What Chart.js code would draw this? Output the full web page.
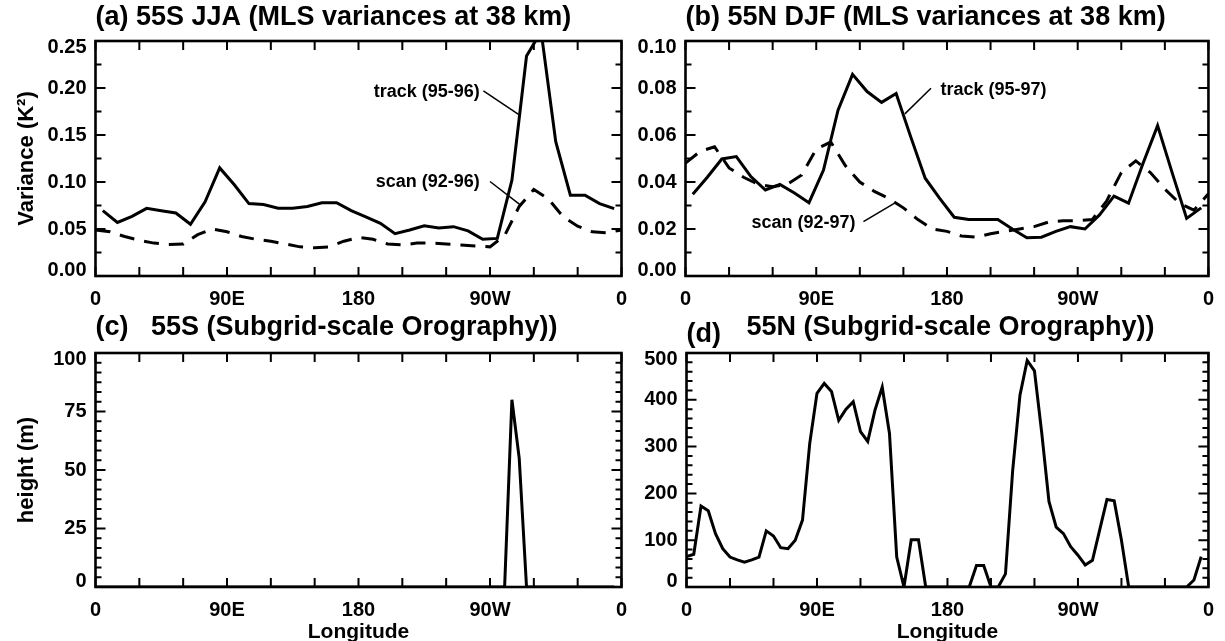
<!DOCTYPE html>
<html>
<head>
<meta charset="utf-8">
<script src="https://cdn.jsdelivr.net/npm/chart.js@4"></script>
<style>
  body { margin: 0; background: #fff; }
  #wrap { position: relative; width: 1225px; height: 641px; overflow: hidden; }
  canvas { position: absolute; }
</style>
</head>
<body>
<div id="wrap">
  <canvas id="pa" width="650" height="320" style="left:0;top:0"></canvas>
  <canvas id="pb" width="625" height="320" style="left:600px;top:0"></canvas>
  <canvas id="pc" width="650" height="335" style="left:0;top:310px"></canvas>
  <canvas id="pd" width="625" height="335" style="left:600px;top:310px"></canvas>
</div>
<script>
// longitude grids (degrees east)
const lonTrack = [5,15,25,35,45,55,65,75,85,95,105,115,125,135,145,155,165,175,
  185,195,205,215,225,235,245,255,265,275,285,295,305,315,325,335,345,355];
const lonScan = [0,10,20,30,40,50,60,70,80,90,100,110,120,130,140,150,160,170,180,
  190,200,210,220,230,240,250,260,270,280,290,300,310,320,330,340,350,360];
const lonOro = [0,5,10,15,20,25,30,35,40,45,50,55,60,65,70,75,80,85,90,95,100,105,110,115,
  120,125,130,135,140,145,150,155,160,165,170,175,180,185,190,195,200,205,210,215,220,225,
  230,235,240,245,250,255,260,265,270,275,280,285,290,295,300,305,310,315,320,325,330,335,
  340,345,350,355];

const lonTicks = [0, 90, 180, 270, 360];
const lonLabels = ['0', '90E', '180', '90W', '0'];

// (a) 55S JJA variances (K^2)
const trackA = [0.0695,0.057,0.0635,0.072,0.0695,0.067,0.055,0.079,0.115,0.097,0.077,0.076,
  0.072,0.072,0.074,0.078,0.078,0.0695,0.063,0.056,0.045,0.049,0.0535,0.051,0.0525,0.048,
  0.039,0.040,0.102,0.234,0.26,0.143,0.086,0.086,0.077,0.0716];
const scanA = [0.049,0.047,0.042,0.038,0.035,0.0335,0.034,0.044,0.050,0.047,0.042,0.039,
  0.037,0.034,0.031,0.030,0.031,0.037,0.041,0.039,0.034,0.033,0.035,0.035,0.034,0.033,
  0.032,0.031,0.043,0.074,0.092,0.082,0.063,0.053,0.047,0.046,0.049];

// (b) 55N DJF variances (K^2)
const trackB = [0.0348,0.042,0.0498,0.0508,0.0423,0.0366,0.039,0.0353,0.0312,0.0451,0.0706,
  0.0858,0.0785,0.0739,0.0777,0.0593,0.0416,0.033,0.025,0.024,0.024,0.024,0.020,0.0163,
  0.0165,0.019,0.021,0.020,0.026,0.034,0.031,0.048,0.064,0.044,0.0245,0.029];
const scanB = [0.048,0.053,0.055,0.046,0.042,0.039,0.038,0.039,0.043,0.054,0.057,0.047,
  0.040,0.036,0.033,0.029,0.024,0.020,0.019,0.017,0.0165,0.018,0.019,0.020,0.021,0.023,
  0.0235,0.0235,0.024,0.032,0.044,0.049,0.044,0.037,0.031,0.028,0.035];

// (c) 55S subgrid-scale orography height (m)
const oroS = [0,0,0,0,0,0,0,0,0,0,0,0,0,0,0,0,0,0,0,0,0,0,0,0,0,0,0,0,0,0,0,0,0,0,0,0,
  0,0,0,0,0,0,0,0,0,0,0,0,0,0,0,0,0,0,0,0,0,80,55,0,0,0,0,0,0,0,0,0,0,0,0,0];
// (d) 55N subgrid-scale orography height (m)
const oroN = [65,70,173,163,114,82,64,58,53,58,64,120,109,84,82,100,143,307,414,435,418,356,
  380,396,332,311,378,427,328,64,0,101,101,0,0,0,0,0,0,0,46,46,0,0,28,250,410,484,462,330,
  183,128,114,86,68,47,57,122,187,184,100,0,0,0,0,0,0,0,0,0,15,65];

const FONT = '"Liberation Sans", Arial, Helvetica, sans-serif';
Chart.defaults.font.family = FONT;
Chart.defaults.font.weight = 'bold';
Chart.defaults.color = '#000';

const pts = (xs, ys) => xs.map((v, i) => ({x: v, y: ys[i]}));

// box round the plot plus inward ticks on all four sides
function frameTicks(yMinor, yEvery) {
  return {
    id: 'frameTicks',
    afterDatasetsDraw(chart) {
      const {ctx, chartArea: a, scales: {x, y}} = chart;
      ctx.save();
      ctx.strokeStyle = '#000';
      ctx.lineWidth = 2;
      ctx.beginPath();
      for (let v = 0; v <= 360; v += 30) {
        const px = x.getPixelForValue(v);
        ctx.moveTo(px, a.bottom); ctx.lineTo(px, a.bottom - 9);
        ctx.moveTo(px, a.top); ctx.lineTo(px, a.top + 9);
      }
      const n = Math.round((y.max - y.min) / yMinor);
      for (let i = 0; i <= n; i++) {
        const py = y.getPixelForValue(y.min + i * yMinor);
        const len = i % yEvery === 0 ? 10 : 6;
        ctx.moveTo(a.left, py); ctx.lineTo(a.left + len, py);
        ctx.moveTo(a.right, py); ctx.lineTo(a.right - len, py);
      }
      ctx.stroke();
      ctx.lineWidth = 2.6;
      ctx.strokeRect(a.left, a.top, a.right - a.left, a.bottom - a.top);
      ctx.restore();
    }
  };
}

// curve labels with their leader lines, placed in data units
function notes(items) {
  return {
    id: 'notes',
    afterDatasetsDraw(chart) {
      const {ctx, scales: {x, y}} = chart;
      ctx.save();
      ctx.fillStyle = '#000';
      ctx.strokeStyle = '#000';
      ctx.lineWidth = 1.5;
      ctx.textBaseline = 'middle';
      items.forEach(n => {
        ctx.font = 'bold ' + (n.size || 18) + 'px ' + FONT;
        ctx.textAlign = n.align;
        ctx.fillText(n.text, x.getPixelForValue(n.at[0]), y.getPixelForValue(n.at[1]));
        if (!n.from) return;
        ctx.beginPath();
        ctx.moveTo(x.getPixelForValue(n.from[0]), y.getPixelForValue(n.from[1]));
        ctx.lineTo(x.getPixelForValue(n.to[0]), y.getPixelForValue(n.to[1]));
        ctx.stroke();
      });
      ctx.restore();
    }
  };
}

function makePanel(id, p) {
  const datasets = p.series.map(s => ({
    data: s.data,
    borderColor: '#000',
    borderWidth: 3,
    borderDash: s.dash || [],
    pointRadius: 0,
    tension: 0,
    fill: false
  }));
  return new Chart(document.getElementById(id), {
    type: 'line',
    data: { datasets: datasets },
    options: {
      responsive: false,
      animation: false,
      events: [],
      layout: { padding: { left: 0, right: p.padRight, top: 0, bottom: 0 } },
      plugins: {
        legend: { display: false },
        tooltip: { enabled: false },
        title: {
          display: true,
          text: p.title,
          align: 'start',
          fullSize: false,
          font: { size: 27, weight: 'bold' },
          padding: { top: p.titleTop, bottom: p.titleBottom }
        }
      },
      scales: {
        x: {
          type: 'linear',
          min: 0,
          max: 360,
          grid: { display: false, drawTicks: false },
          border: { display: false },
          afterBuildTicks: s => { s.ticks = lonTicks.map(v => ({value: v})); },
          afterFit: s => { s.height = p.xHeight; },
          ticks: {
            autoSkip: false,
            maxRotation: 0,
            padding: 11,
            font: { size: 20, weight: 'bold' },
            callback: (v, i) => lonLabels[i]
          },
          title: {
            display: !!p.xTitle,
            text: p.xTitle || '',
            font: { size: 21, weight: 'bold' },
            padding: { top: 0, bottom: 0 }
          }
        },
        y: {
          min: 0,
          max: p.yMax,
          grid: { display: false, drawTicks: false },
          border: { display: false },
          afterFit: s => { s.width = p.yWidth; },
          ticks: {
            stepSize: p.yStep,
            padding: 9,
            font: { size: 20, weight: 'bold', lineHeight: 0.6 },
            // end labels sit a little inside the axis, as in the original
            callback: (v, i, t) => {
              const s = p.yFmt(v);
              if (i === t.length - 1) return ['', s];
              if (i === 0) return [s, ''];
              return s;
            }
          },
          title: {
            display: !!p.yTitle,
            text: p.yTitle || '',
            font: { size: 22, weight: 'bold' },
            padding: { top: 14, bottom: 0 }
          }
        }
      }
    },
    plugins: [frameTicks(p.yMinor, p.yEvery), notes(p.notes || [])]
  });
}

makePanel('pa', {
  title: '(a) 55S JJA (MLS variances at 38 km)',
  titleTop: 1, titleBottom: 7.6,
  padRight: 28.5, xHeight: 44, yWidth: 95.5,
  yMax: 0.25, yStep: 0.05, yMinor: 0.025, yEvery: 2,
  yFmt: v => v.toFixed(2),
  yTitle: 'Variance (K²)',
  series: [
    { data: pts(lonTrack, trackA) },
    { data: pts(lonScan, scanA), dash: [15, 10] }
  ],
  notes: [
    { text: 'track (95-96)', align: 'right', at: [263, 0.196], from: [265.5, 0.197], to: [289.5, 0.172] },
    { text: 'scan (92-96)', align: 'right', at: [263, 0.100], from: [270, 0.1005], to: [290.5, 0.076] }
  ]
});

makePanel('pb', {
  title: '(b) 55N DJF (MLS variances at 38 km)',
  titleTop: 1, titleBottom: 7.6,
  padRight: 12, xHeight: 44, yWidth: 85.5,
  yMax: 0.10, yStep: 0.02, yMinor: 0.01, yEvery: 2,
  yFmt: v => v.toFixed(2),
  series: [
    { data: pts(lonTrack, trackB) },
    { data: pts(lonScan, scanB), dash: [15, 10] }
  ],
  notes: [
    { text: 'track (95-97)', align: 'left', at: [175.5, 0.079], from: [169, 0.0799], to: [151, 0.069] },
    { text: 'scan (92-97)', align: 'right', at: [117, 0.0227], from: [122.5, 0.0231], to: [144, 0.031] }
  ]
});

makePanel('pc', {
  title: '(c)   55S (Subgrid-scale Orography))',
  titleTop: 1.8, titleBottom: 8.8,
  padRight: 28.5, xHeight: 58, yWidth: 95.5,
  yMax: 100, yStep: 25, yMinor: 25 / 6, yEvery: 6,
  yFmt: v => String(v),
  yTitle: 'height (m)',
  xTitle: 'Longitude',
  series: [ { data: pts(lonOro, oroS) } ]
});

makePanel('pd', {
  title: '        55N (Subgrid-scale Orography))',
  titleTop: 1.8, titleBottom: 8.8,
  padRight: 12, xHeight: 58, yWidth: 86.5,
  yMax: 500, yStep: 100, yMinor: 20, yEvery: 5,
  yFmt: v => String(v),
  xTitle: 'Longitude',
  series: [ { data: pts(lonOro, oroN) } ],
  notes: [ { text: '(d)', align: 'left', size: 27, at: [0, 540] } ]
});
</script>
</body>
</html>
